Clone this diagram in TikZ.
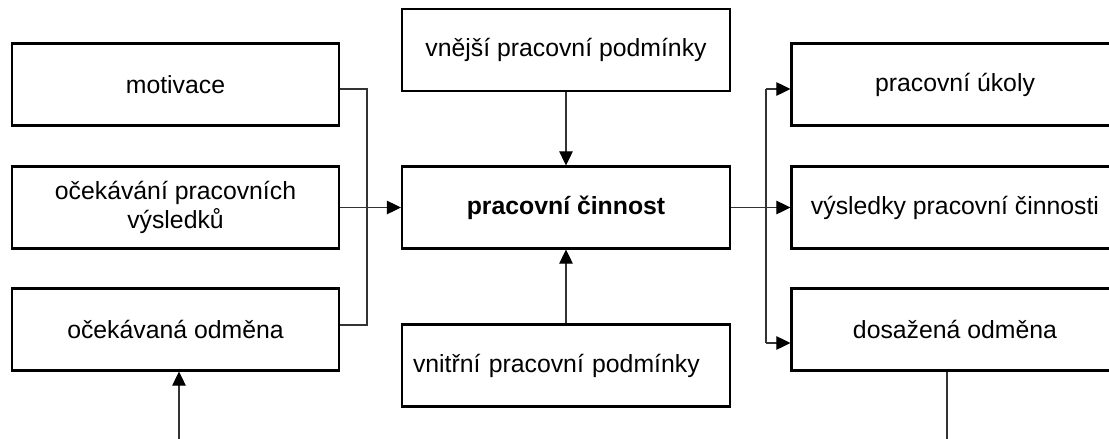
\documentclass[tikz,border=0pt]{standalone}
\usepackage{fontspec}
\setmainfont{Liberation Sans}
\usetikzlibrary{arrows.meta}
\begin{document}
\begin{tikzpicture}[x=1pt,y=-1pt,
  box/.style={draw=black,line width=2.2pt,rectangle,inner sep=0pt,
    minimum width=327pt,minimum height=82pt,align=center,
    font=\fontsize{24.8}{29.5}\selectfont},
  conn/.style={draw=black!80,line width=1.1pt},
  arr/.style={conn,-{Triangle[length=14pt,width=13.5pt,color=black]}}]
\clip (0,0) rectangle (1109,439);
\fill[white] (0,0) rectangle (1109,439);
% left column
\node[box] (mot) at (175.5,84.5) {motivace};
\node[box] (oce) at (175.5,207.5) {očekávání pracovních\\výsledků};
\node[box] (odm) at (175.5,329.5) {očekávaná odměna};
% centre column
\node[box,minimum width=328pt] (vne) at (566,50) {vnější pracovní podmínky};
\node[box,minimum width=328pt] (cin) at (566,207.5) {\bfseries pracovní činnost};
\node[box,minimum width=328pt,text width=306pt,inner xsep=11pt,align=left] (vni) at (566,365.5) {vnitřní pracovní podmínky};
% right column
\node[box] (uko) at (955,84.5) {pracovní úkoly};
\node[box] (vys) at (955,207.5) {výsledky pracovní činnosti};
\node[box] (dos) at (955,329.5) {dosažená odměna};
% free ends
\coordinate (odmb) at (179,439);
\coordinate (dosb) at (947,439);
% left connectors
\draw[conn] (mot.east |- 0,89) -- (367,89) -- (367,325) -- (odm.east |- 0,325);
\draw[arr] (oce.east) -- (cin.west);
\draw[arr] (odmb) -- (odmb |- odm.south);
% centre connectors
\draw[arr] (vne.south) -- (cin.north);
\draw[arr] (vni.north) -- (cin.south);
% right connectors
\draw[arr] (cin.east) -- (vys.west);
\draw[conn] (766,89) -- (766,343);
\draw[arr] (766,89) -- (uko.west |- 0,89);
\draw[arr] (766,343) -- (dos.west |- 0,343);
\draw[conn] (dosb |- dos.south) -- (dosb);
\end{tikzpicture}
\end{document}
